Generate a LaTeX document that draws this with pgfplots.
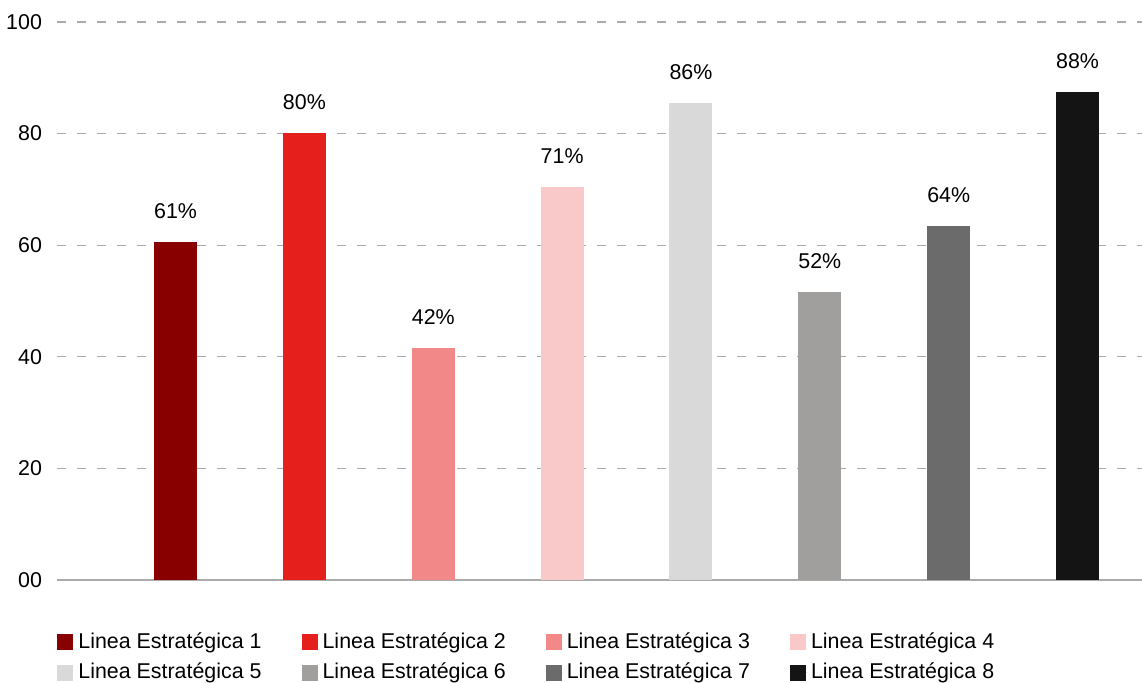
\documentclass[border=0pt]{standalone}
\usepackage{pgfplots}
\pgfplotsset{compat=1.18}
\usepackage{fontspec}
\setmainfont{Liberation Sans}
\definecolor{c1}{HTML}{880000}
\definecolor{c2}{HTML}{E41F1C}
\definecolor{c3}{HTML}{F28888}
\definecolor{c4}{HTML}{F9C8C8}
\definecolor{c5}{HTML}{D9D9D9}
\definecolor{c6}{HTML}{A09F9E}
\definecolor{c7}{HTML}{6B6B6B}
\definecolor{c8}{HTML}{141414}
\definecolor{gridc}{HTML}{AAAAAA}
\begin{document}
\begin{tikzpicture}[font=\fontsize{10.7pt}{12.8pt}\selectfont]
\path[use as bounding box] (0,0) rectangle (571pt,341.5pt);
\begin{axis}[
  at={(28.5pt,51.5pt)}, anchor=south west,
  scale only axis, width=542.5pt, height=279pt,
  xmin=-0.92, xmax=7.5, ymin=0, ymax=100,
  ytick={0,20,40,60,80,100},
  yticklabels={00,20,40,60,80,100},
  xtick=\empty,
  major tick length=0pt,
  axis y line*=left,
  y axis line style={draw=none},
  axis x line*=bottom,
  x axis line style={draw=gridc, line width=0.6pt, -},
  ymajorgrids,
  grid style={draw=gridc, line width=0.6pt, dash pattern=on 4.5pt off 5.5pt},
  yticklabel style={xshift=-4pt},
  /pgf/number format/assume math mode=true,
  ybar, bar width=21.5pt, bar shift=0pt,
  nodes near coords, point meta=explicit symbolic,
  every node near coord/.append style={yshift=8pt, text=black},
  legend columns=4,
  legend image code/.code={\fill[#1] (0pt,-4pt) rectangle (8pt,4pt); \path (0pt,0pt) -- (8.5pt,0pt);},
  legend style={draw=none, at={(rel axis cs:0,0)}, anchor=north west,
    xshift=-3pt, yshift=-22pt, row sep=2pt,
    /tikz/every even column/.append style={column sep=18pt}},
  clip=false,
]
\addplot[fill=c1, draw=none] coordinates {(0,60.6) [61\%]};
\addlegendentry{Linea Estratégica 1}
\addplot[fill=c2, draw=none] coordinates {(1,80.1) [80\%]};
\addlegendentry{Linea Estratégica 2}
\addplot[fill=c3, draw=none] coordinates {(2,41.6) [42\%]};
\addlegendentry{Linea Estratégica 3}
\addplot[fill=c4, draw=none] coordinates {(3,70.4) [71\%]};
\addlegendentry{Linea Estratégica 4}
\addplot[fill=c5, draw=none] coordinates {(4,85.5) [86\%]};
\addlegendentry{Linea Estratégica 5}
\addplot[fill=c6, draw=none] coordinates {(5,51.6) [52\%]};
\addlegendentry{Linea Estratégica 6}
\addplot[fill=c7, draw=none] coordinates {(6,63.4) [64\%]};
\addlegendentry{Linea Estratégica 7}
\addplot[fill=c8, draw=none] coordinates {(7,87.5) [88\%]};
\addlegendentry{Linea Estratégica 8}
\end{axis}
\end{tikzpicture}
\end{document}
